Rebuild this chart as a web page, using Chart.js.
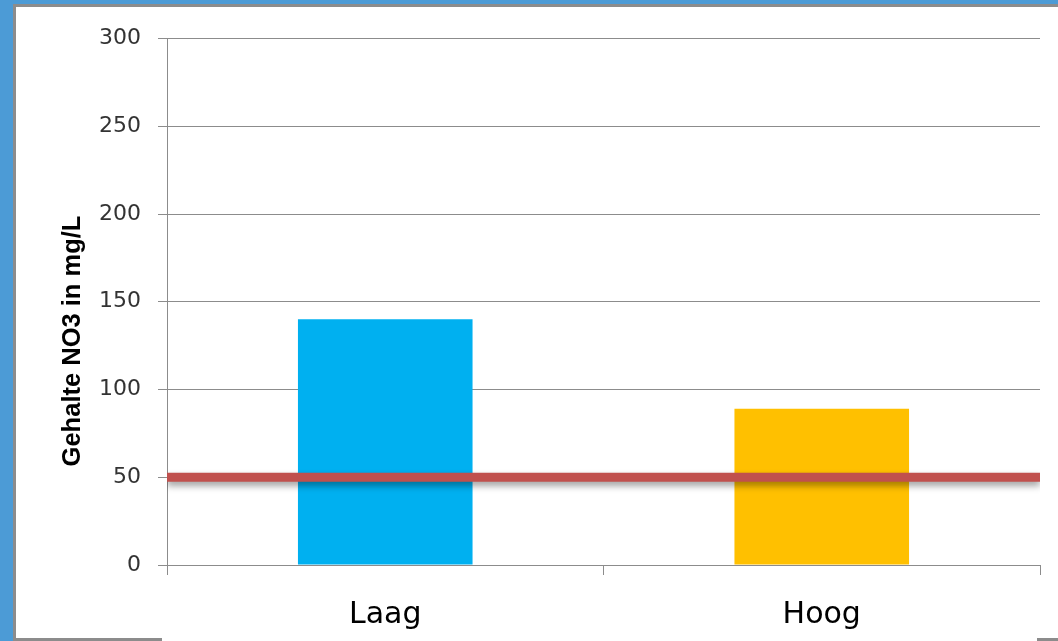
<!DOCTYPE html>
<html>
<head>
<meta charset="utf-8">
<script src="https://cdn.jsdelivr.net/npm/chart.js@4/dist/chart.umd.min.js"></script>
<style>
  html, body { margin:0; padding:0; width:1058px; height:641px; overflow:hidden; background:#4C9BD6; }
  #frame { position:absolute; left:13px; top:4px; width:1045px; height:637px; background:#fff;
           border-left:3px solid #8C8C8C; border-top:3px solid #8C8C8C; box-sizing:border-box; }
  .bot { position:absolute; top:638px; height:3px; background:#8C8C8C; }
  #c { position:absolute; left:0; top:0; }
</style>
</head>
<body>
<div id="frame"></div>
<div class="bot" style="left:13px;width:149px"></div>
<div class="bot" style="left:1037px;width:21px"></div>
<canvas id="c" width="1058" height="641"></canvas>
<script>
// ---- data ----
const categories = ['Laag', 'Hoog'];
const nitrateValues = [140, 89];
const barColors = ['#00B0F0', '#FFC000'];
const normValue = 50;
const yTickValues = [0, 50, 100, 150, 200, 250, 300];
const yTitle = 'Gehalte NO3 in mg/L';

Chart.defaults.font.family = '"DejaVu Sans", Verdana, sans-serif';

const shadowPlugin = {
  id: 'lineShadow',
  beforeDatasetDraw(chart, args) {
    if (args.meta.type === 'line') {
      const ctx = chart.ctx;
      ctx.save();
      ctx.shadowColor = 'rgba(0,0,0,0.38)';
      ctx.shadowBlur = 7;
      ctx.shadowOffsetX = 0;
      ctx.shadowOffsetY = 4;
    }
  },
  afterDatasetDraw(chart, args) {
    if (args.meta.type === 'line') chart.ctx.restore();
  }
};

const titlePlugin = {
  id: 'yTitle',
  afterDraw(chart) {
    const ctx = chart.ctx;
    ctx.save();
    ctx.translate(73, 341);
    ctx.rotate(-Math.PI / 2);
    ctx.font = 'bold 25.5px "Liberation Sans", Arial, sans-serif';
    ctx.fillStyle = '#000';
    ctx.textAlign = 'center';
    ctx.textBaseline = 'middle';
    ctx.fillText(yTitle, 0, 0);
    ctx.restore();
  }
};

new Chart(document.getElementById('c'), {
  data: {
    labels: categories,
    datasets: [
      {
        type: 'line',
        order: 0,
        xAxisID: 'x2',
        data: [{x: 0, y: normValue}, {x: 1, y: normValue}],
        borderColor: '#C0504D',
        borderWidth: 9,
        borderCapStyle: 'butt',
        pointRadius: 0,
        tension: 0
      },
      {
        type: 'bar',
        order: 1,
        xAxisID: 'x',
        data: nitrateValues,
        backgroundColor: barColors,
        borderWidth: 0,
        grouped: false,
        barPercentage: 0.4,
        categoryPercentage: 1.0
      }
    ]
  },
  options: {
    responsive: false,
    devicePixelRatio: 1,
    animation: false,
    layout: { padding: { left: 0, right: 18, top: 38.5, bottom: 0 } },
    plugins: { legend: { display: false }, tooltip: { enabled: false } },
    scales: {
      x: {
        type: 'category',
        offset: true,
        grid: { offset: true, drawOnChartArea: false, drawTicks: true, tickLength: 10, color: '#8C8C8C', lineWidth: 1 },
        border: { color: '#8C8C8C', width: 1 },
        ticks: { color: '#000', font: { size: 30 }, padding: 22 },
        afterFit(s) { s.height = 76; }
      },
      x2: {
        type: 'linear',
        display: false,
        min: 0,
        max: 1
      },
      y: {
        min: 0,
        max: 300,
        afterBuildTicks(s) { s.ticks = yTickValues.map(v => ({ value: v })); },
        grid: { color: '#8C8C8C', lineWidth: 1, tickLength: 9 },
        border: { color: '#8C8C8C', width: 1 },
        ticks: { color: '#333', font: { size: 22 }, padding: 17 },
        afterFit(s) { s.width = 167; }
      }
    }
  },
  plugins: [shadowPlugin, titlePlugin]
});
</script>
</body>
</html>
